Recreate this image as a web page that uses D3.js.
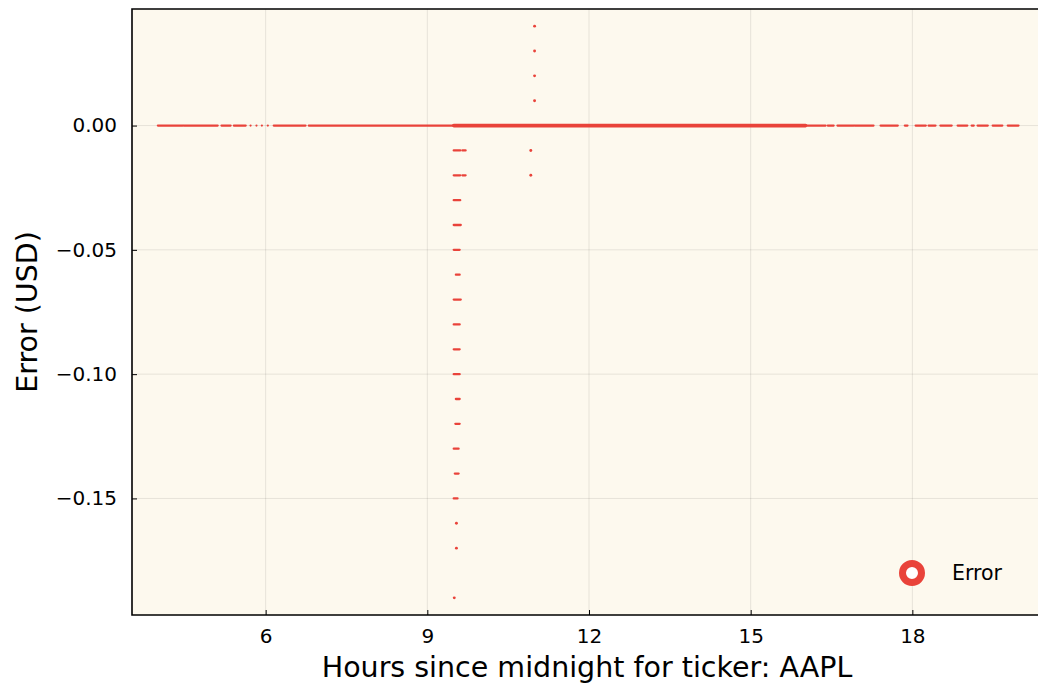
<!DOCTYPE html>
<html>
<head>
<meta charset="utf-8">
<script src="https://cdn.jsdelivr.net/npm/d3@7"></script>
<style>
  html, body { margin: 0; padding: 0; background: #fff; }
  svg { display: block; font-family: "DejaVu Sans", sans-serif; }
</style>
</head>
<body>
<div id="chart"></div>
<script>
// zero-error stretches, hours since midnight: [start, end]
const zeroStart = [4.00, 4.48, 5.18, 5.41, 5.72, 5.83, 5.93, 6.04, 6.15, 6.80, 9.49,
  16.05, 16.43, 16.61, 16.93, 17.41, 17.86, 18.06, 18.30, 18.52, 18.84, 19.10, 19.21, 19.49, 19.77];
const zeroEnd = [4.46, 5.11, 5.35, 5.63, 5.72, 5.83, 5.93, 6.04, 6.74, 9.49, 16.02,
  16.39, 16.54, 16.91, 17.28, 17.73, 17.91, 18.25, 18.43, 18.73, 19.02, 19.14, 19.40, 19.67, 19.97];
const zeroDense = [false, false, false, false, false, false, false, false, false, false, true,
  false, false, false, false, false, false, false, false, false, false, false, false, false, false];

// non-zero errors (USD) and the time span they cover
const errValue = [-0.01, -0.01, -0.02, -0.02, -0.03, -0.04, -0.05, -0.06, -0.07, -0.08, -0.09,
  -0.10, -0.11, -0.12, -0.13, -0.14, -0.15, -0.16, -0.17, -0.19,
  -0.01, -0.02, 0.01, 0.02, 0.03, 0.04];
const errStart = [9.49, 9.65, 9.49, 9.65, 9.49, 9.49, 9.49, 9.53, 9.49, 9.49, 9.49,
  9.49, 9.53, 9.52, 9.49, 9.51, 9.49, 9.54, 9.54, 9.50,
  10.92, 10.92, 10.99, 10.99, 10.99, 10.99];
const errEnd = [9.61, 9.71, 9.61, 9.71, 9.61, 9.62, 9.60, 9.60, 9.62, 9.60, 9.60,
  9.60, 9.60, 9.60, 9.58, 9.58, 9.56, 9.54, 9.54, 9.50,
  10.92, 10.92, 10.99, 10.99, 10.99, 10.99];

const xTicks = [6, 9, 12, 15, 18];
const yTicks = [0, -0.05, -0.10, -0.15];
const seriesName = "Error";

const W = 1038, H = 690;
const margin = { t: 9, r: -8, b: 75, l: 132 };
const red = "#e9433a";

const scale = {
  x: d3.scaleLinear().domain([3.52, 20.48]).range([margin.l, W - margin.r]),
  y: d3.scaleLinear().domain([-0.1969, 0.0469]).range([H - margin.b, margin.t])
};

const svg = d3.select("#chart").append("svg")
  .attr("width", W)
  .attr("height", H);

const x0 = margin.l, x1 = W - margin.r, y0 = margin.t, y1 = H - margin.b;

// plot background
svg.append("rect")
  .attr("x", x0).attr("y", y0)
  .attr("width", x1 - x0).attr("height", y1 - y0)
  .attr("fill", "#fdf9ee");

// grid
svg.append("g").selectAll("line")
  .data(xTicks)
  .join("line")
  .attr("x1", d => scale.x(d)).attr("x2", d => scale.x(d))
  .attr("y1", y0).attr("y2", y1)
  .attr("stroke", "#000").attr("stroke-opacity", 0.09).attr("stroke-width", 1);
svg.append("g").selectAll("line")
  .data(yTicks)
  .join("line")
  .attr("x1", x0).attr("x2", x1)
  .attr("y1", d => scale.y(d)).attr("y2", d => scale.y(d))
  .attr("stroke", "#000").attr("stroke-opacity", 0.09).attr("stroke-width", 1);

// data
const plot = svg.append("g");
plot.selectAll("line.zero")
  .data(zeroStart.map((s, i) => ({ s: s, e: zeroEnd[i], dense: zeroDense[i] })))
  .join("line")
  .attr("class", "zero")
  .attr("x1", d => scale.x(d.s)).attr("x2", d => scale.x(d.e))
  .attr("y1", scale.y(0)).attr("y2", scale.y(0))
  .attr("stroke", red)
  .attr("stroke-width", d => d.dense ? 3.6 : 2.2)
  .attr("stroke-linecap", "round");

plot.selectAll("line.err")
  .data(errValue.map((v, i) => ({ v: v, s: errStart[i], e: errEnd[i] })))
  .join("line")
  .attr("class", "err")
  .attr("x1", d => scale.x(d.s)).attr("x2", d => scale.x(d.e))
  .attr("y1", d => scale.y(d.v)).attr("y2", d => scale.y(d.v))
  .attr("stroke", red)
  .attr("stroke-width", d => d.s === d.e ? 2.9 : 2.3)
  .attr("stroke-linecap", "round");

// axes
const xAxis = d3.axisBottom(scale.x).tickValues(xTicks)
  .tickSizeInner(-5).tickSizeOuter(0).tickPadding(14)
  .tickFormat(d3.format("d"));
const yAxis = d3.axisLeft(scale.y).tickValues(yTicks)
  .tickSizeInner(-5).tickSizeOuter(0).tickPadding(15)
  .tickFormat(d => d3.format(".2f")(d).replace("-", "\u2212"));

const gx = svg.append("g").attr("transform", "translate(0," + y1 + ")").call(xAxis);
const gy = svg.append("g").attr("transform", "translate(" + x0 + ",0)").call(yAxis);
[gx, gy].forEach(g => {
  g.select(".domain").remove();
  g.selectAll(".tick line").attr("stroke", "#000").attr("stroke-width", 1);
  g.selectAll("text").attr("font-size", 20).attr("fill", "#000")
    .attr("font-family", "DejaVu Sans, sans-serif");
});

// frame (left, top, bottom)
svg.append("path")
  .attr("d", "M" + x1 + "," + y0 + "H" + x0 + "V" + y1 + "H" + x1)
  .attr("fill", "none").attr("stroke", "#000").attr("stroke-width", 1.6);

// axis labels
svg.append("text")
  .attr("x", 587)
  .attr("y", 677)
  .attr("text-anchor", "middle")
  .attr("font-size", 28.5)
  .text("Hours since midnight for ticker: AAPL");
svg.append("text")
  .attr("transform", "translate(37," + ((y0 + y1) / 2) + ") rotate(-90)")
  .attr("text-anchor", "middle")
  .attr("font-size", 28.5)
  .text("Error (USD)");

// legend
const lg = svg.append("g").attr("transform", "translate(912,573)");
lg.append("circle")
  .attr("r", 9.5)
  .attr("fill", "#fff")
  .attr("stroke", red)
  .attr("stroke-width", 7);
lg.append("text")
  .attr("x", 40).attr("y", 7)
  .attr("font-size", 20.5)
  .text(seriesName);
</script>
</body>
</html>
